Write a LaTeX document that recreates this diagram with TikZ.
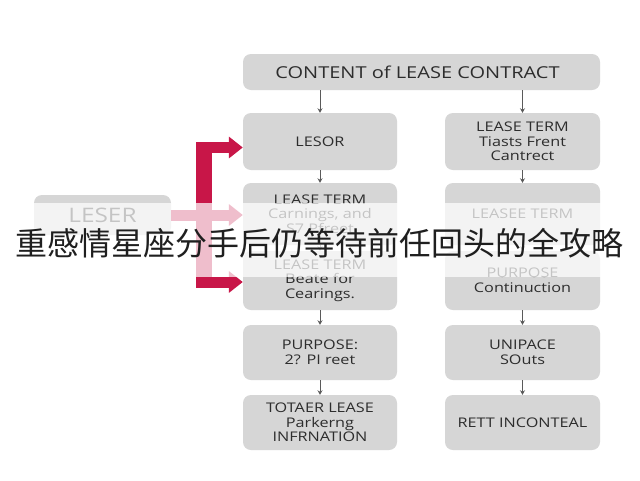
\documentclass[tikz,border=0pt]{standalone}
\usepackage{fontspec}
\setmainfont{Open Sans}[FakeStretch=1.22]
\newfontfamily\cjk{Noto Sans CJK SC}
\usetikzlibrary{arrows.meta}
\definecolor{boxgray}{RGB}{214,214,214}
\definecolor{txt}{RGB}{45,45,45}
\definecolor{crim}{RGB}{200,22,72}
\definecolor{arr}{RGB}{90,90,90}
\begin{document}
\begin{tikzpicture}[x=1pt,y=-1pt,
  box/.style={fill=boxgray, rounded corners=8pt, text=txt, align=center,
    font=\fontsize{13.3}{14.6}\selectfont, inner sep=0pt},
  lcol/.style={box, minimum width=154pt},
  rcol/.style={box, minimum width=155pt},
  garrow/.style={draw=arr, line width=0.9pt, -{Stealth[length=4.5pt,width=5pt]}},
  redarm/.style={draw=crim, line width=11pt, -{Triangle[length=14pt,width=21pt]}},
  redbar/.style={draw=crim, line width=16pt}]
\useasboundingbox (0,0) rectangle (640,480);
\fill[white] (0,0) rectangle (640,480);
% top box
\node[box, minimum width=357pt, minimum height=36pt, font=\fontsize{16.4}{18}\selectfont] (top) at (421.5,72) {CONTENT of LEASE CONTRACT\hspace*{8pt}};
% left column
\node[lcol, minimum height=57pt] (L1) at (320,141.5) {LESOR};
\node[lcol, minimum height=62pt] (L2) at (320,214) {LEASE TERM\\Carnings, and\\S7 Pfreet};
\node[lcol, minimum height=59pt] (L3) at (320,280.5) {LEASE TERM\\Beate for\\Cearings.};
\node[lcol, minimum height=55pt] (L4) at (320,352.5) {PURPOSE:\\2? PI reet};
\node[lcol, minimum height=55pt] (L5) at (320,422.5) {TOTAER LEASE\\Parkerng\\INFRNATION};
% right column
\node[rcol, minimum height=57pt] (R1) at (522.5,141.5) {LEASE TERM\\Tiasts Frent\\Cantrect};
\node[rcol, minimum height=62pt] (R2) at (522.5,214) {LEASEE TERM};
\node[rcol, minimum height=59pt] (R3) at (522.5,280.5) {PURPOSE\\Continuction};
\node[rcol, minimum height=55pt] (R4) at (522.5,352.5) {UNIPACE\\SOuts};
\node[rcol, minimum height=55pt] (R5) at (522.5,422.5) {RETT INCONTEAL};
% left outer box
\node[box, minimum width=137pt, minimum height=40pt, font=\fontsize{20}{22}\selectfont] (leser) at (102.5,215) {LESER};
% gray arrows
\draw[garrow] (top.south -| L1.north) -- (L1.north);
\draw[garrow] (top.south -| R1.north) -- (R1.north);
\draw[garrow] (L1.south) -- (L2.north);
\draw[garrow] (L2.south) -- (L3.north);
\draw[garrow] (L3.south) -- (L4.north);
\draw[garrow] (L4.south) -- (L5.north);
\draw[garrow] (R1.south) -- (R2.north);
\draw[garrow] (R2.south) -- (R3.north);
\draw[garrow] (R3.south) -- (R4.north);
\draw[garrow] (R4.south) -- (R5.north);
% red connector
\coordinate (bt) at (204,142);
\coordinate (bb) at (204,287);
\coordinate (a1) at (196,147.5);
\coordinate (a3) at (196,282);
\draw[redbar] (bt) -- (bb);
\draw[redarm] (a1) -- (a1 -| L1.west);
\draw[redarm] (leser.east) -- (leser.east -| L2.west);
\draw[redarm] (a3) -- (a3 -| L3.west);
% banner
\fill[white, opacity=0.72] (0,203) rectangle (640,277);
\node[font=\cjk\fontsize{32}{34}\selectfont, text=black!88, inner sep=0pt] (title) at (320,243) {重感情星座分手后仍等待前任回头的全攻略};
\end{tikzpicture}
\end{document}
